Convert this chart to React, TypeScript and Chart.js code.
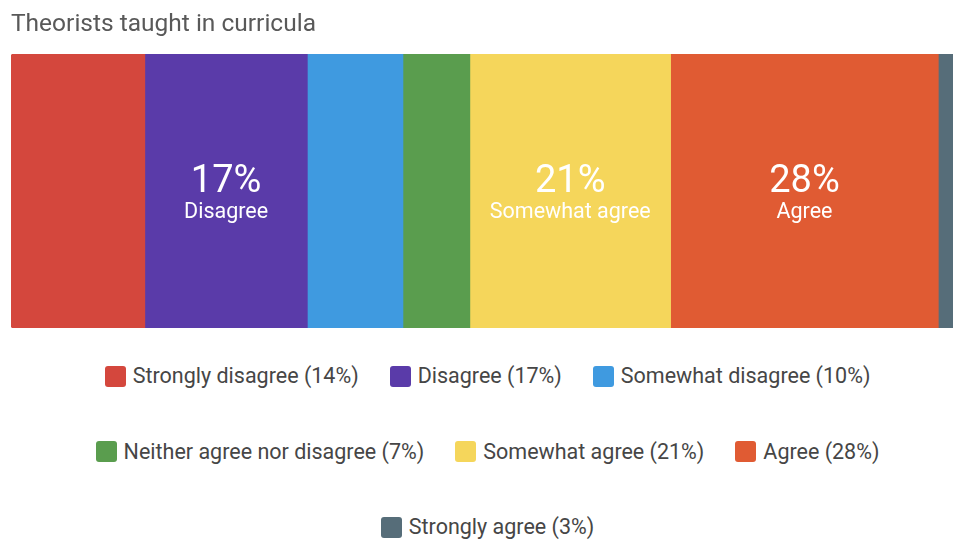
import React, { useEffect, useRef } from "react";
import { Chart, registerables } from "chart.js";

Chart.register(...registerables);

const title = "Theorists taught in curricula";
const categories = [
  "Strongly disagree",
  "Disagree",
  "Somewhat disagree",
  "Neither agree nor disagree",
  "Somewhat agree",
  "Agree",
  "Strongly agree",
];
const values = [14, 17, 10, 7, 21, 28, 3];
const colors = ["#D4473D", "#5A3BA9", "#3F9AE0", "#5A9D4E", "#F5D65B", "#E05B33", "#566D79"];
const LABEL_MIN = 15;

const FONT = "Roboto, 'Noto Sans', sans-serif";

const barLabelPlugin = {
  id: "barLabels",
  afterDatasetsDraw(chart: any) {
    const ctx = chart.ctx;
    ctx.save();
    ctx.fillStyle = "#ffffff";
    ctx.textAlign = "center";
    ctx.textBaseline = "alphabetic";
    chart.data.datasets.forEach((ds: any, i: number) => {
      const v = ds.data[0];
      if (v < LABEL_MIN) return;
      const el = chart.getDatasetMeta(i).data[0];
      const cx = (el.x + el.base) / 2;
      const cy = el.y;
      ctx.font = `38px ${FONT}`;
      ctx.fillText(`${v}%`, cx, cy + 1);
      ctx.font = `21.5px ${FONT}`;
      ctx.fillText(ds.label, cx, cy + 27);
    });
    ctx.restore();
  },
};

export default function App() {
  const ref = useRef<HTMLCanvasElement>(null);

  useEffect(() => {
    if (!ref.current) return;
    Chart.defaults.font.family = FONT;
    const chart = new Chart(ref.current, {
      type: "bar",
      data: {
        labels: [title],
        datasets: categories.map((c, i) => ({
          label: c,
          data: [values[i]],
          backgroundColor: colors[i],
          borderWidth: 0,
          borderSkipped: false,
          borderRadius:
            i === 0
              ? { topLeft: 3, bottomLeft: 3, topRight: 0, bottomRight: 0 }
              : i === categories.length - 1
              ? { topLeft: 0, bottomLeft: 0, topRight: 3, bottomRight: 3 }
              : 0,
          barPercentage: 1,
          categoryPercentage: 1,
        })),
      },
      options: {
        indexAxis: "y",
        responsive: false,
        animation: false,
        devicePixelRatio: 1,
        layout: { padding: { left: 3, right: 0, top: 0, bottom: 0 } },
        scales: {
          x: { stacked: true, min: 0, max: 100, display: false },
          y: { stacked: true, display: false },
        },
        plugins: {
          legend: { display: false },
          tooltip: { enabled: false },
          title: {
            display: true,
            text: title,
            align: "start",
            color: "#595959",
            font: { size: 24.5, weight: "normal", family: FONT },
            padding: { top: 2.6, bottom: 14 },
          },
        },
      } as any,
      plugins: [barLabelPlugin],
    });
    return () => chart.destroy();
  }, []);

  return (
    <div
      style={{
        width: 953,
        height: 541,
        overflow: "hidden",
        boxSizing: "border-box",
        paddingLeft: 8,
        paddingTop: 8,
      }}
    >
      <style>{"html,body{margin:0;padding:0;overflow:hidden}"}</style>
      <div style={{ width: 959 }}>
        <canvas ref={ref} width={959} height={320} style={{ display: "block" }} />
        <div
          style={{
            marginTop: 35,
            display: "flex",
            flexWrap: "wrap",
            justifyContent: "center",
            columnGap: 31,
            rowGap: 49.5,
            fontFamily: FONT,
            fontSize: 21.5,
            color: "#464646",
          }}
        >
          {categories.map((c, i) => (
            <div key={c} style={{ display: "flex", alignItems: "center", height: 26 }}>
              <span
                style={{
                  width: 21,
                  height: 21,
                  borderRadius: 3,
                  background: colors[i],
                  marginRight: 7,
                  display: "inline-block",
                  flex: "none",
                }}
              />
              <span style={{ lineHeight: "26px", whiteSpace: "nowrap" }}>{`${c} (${values[i]}%)`}</span>
            </div>
          ))}
        </div>
      </div>
    </div>
  );
}
